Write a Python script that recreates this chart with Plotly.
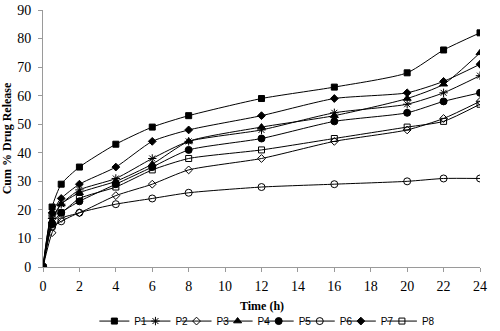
import plotly.graph_objects as go

time_h = [0, 0.5, 1, 2, 4, 6, 8, 12, 16, 20, 22, 24]
P1 = [0, 21, 29, 35, 43, 49, 53, 59, 63, 68, 76, 82]
P2 = [0, 17, 22, 27, 31, 38, 44, 48, 54, 57, 61, 67]
P3 = [0, 12, 17, 19, 25, 29, 34, 38, 44, 48, 52, 58]
P4 = [0, 16, 22, 26, 30, 36, 44, 49, 53, 59, 64, 75]
P5 = [0, 15, 19, 23, 29, 35, 41, 45, 51, 54, 58, 61]
P6 = [0, 14, 16, 19, 22, 24, 26, 28, 29, 30, 31, 31]
P7 = [0, 19, 24, 29, 35, 44, 48, 53, 59, 61, 65, 71]
P8 = [0, 18, 19, 24, 28, 34, 38, 41, 45, 49, 51, 57]

series = [
    ("P1", P1, "square", 6),
    ("P2", P2, "asterisk-open", 7),
    ("P3", P3, "diamond-open", 6),
    ("P4", P4, "triangle-up", 7),
    ("P5", P5, "circle", 7),
    ("P6", P6, "circle-open", 7),
    ("P7", P7, "diamond", 6),
    ("P8", P8, "square-open", 6),
]

fig = go.Figure()
for i, (name, vals, sym, sz) in enumerate(series):
    fig.add_trace(go.Scatter(
        x=time_h, y=vals, name=name, mode="lines+markers",
        line=dict(color="black", width=1, shape="spline", smoothing=0.6),
        marker=dict(symbol=sym, size=sz, color="black",
                    line=dict(color="black", width=1)),
        legendwidth=0.125 if i == len(series) - 1 else None,
    ))

serif = "Liberation Serif, Times New Roman, serif"
fig.update_layout(
    width=500, height=331,
    margin=dict(l=43, r=20, t=10, b=64, autoexpand=False),
    paper_bgcolor="white", plot_bgcolor="white",
    showlegend=True,
    legend=dict(orientation="h", x=0.51, xanchor="center",
                yref="container", y=0.030, yanchor="middle",
                font=dict(family="Liberation Sans, Arial, sans-serif", size=10, color="black"),
                itemwidth=30, entrywidth=0.094, entrywidthmode="fraction",
                tracegroupgap=0, bgcolor="rgba(0,0,0,0)"),
    font=dict(family=serif, color="black"),
    annotations=[dict(text="<b>Time (h)</b>", xref="paper", yref="paper",
                      x=0.5, y=-0.152, xanchor="center", yanchor="middle",
                      showarrow=False, font=dict(family=serif, size=12, color="black"))],
)
fig.update_xaxes(
    range=[0, 24], tickvals=list(range(0, 25, 2)),
    showline=True, linecolor="#9a9a9a", linewidth=1,
    ticks="outside", tickcolor="#9a9a9a", ticklen=4,
    showgrid=False, zeroline=False, ticklabelstandoff=2,
    tickfont=dict(family=serif, size=14, color="black"),
)
fig.update_yaxes(
    range=[0, 90], tickvals=list(range(0, 91, 10)),
    showline=True, linecolor="#9a9a9a", linewidth=1,
    ticks="outside", tickcolor="#9a9a9a", ticklen=4,
    showgrid=False, zeroline=False, ticklabelstandoff=4,
    tickfont=dict(family=serif, size=14, color="black"),
    title=dict(text="<b>Cum % Drug Release</b>", font=dict(family=serif, size=12, color="black"), standoff=3),
)
fig.write_html("out.html", config={"displayModeBar": False},
               post_script="document.body.style.margin='0';document.body.style.padding='0';")
